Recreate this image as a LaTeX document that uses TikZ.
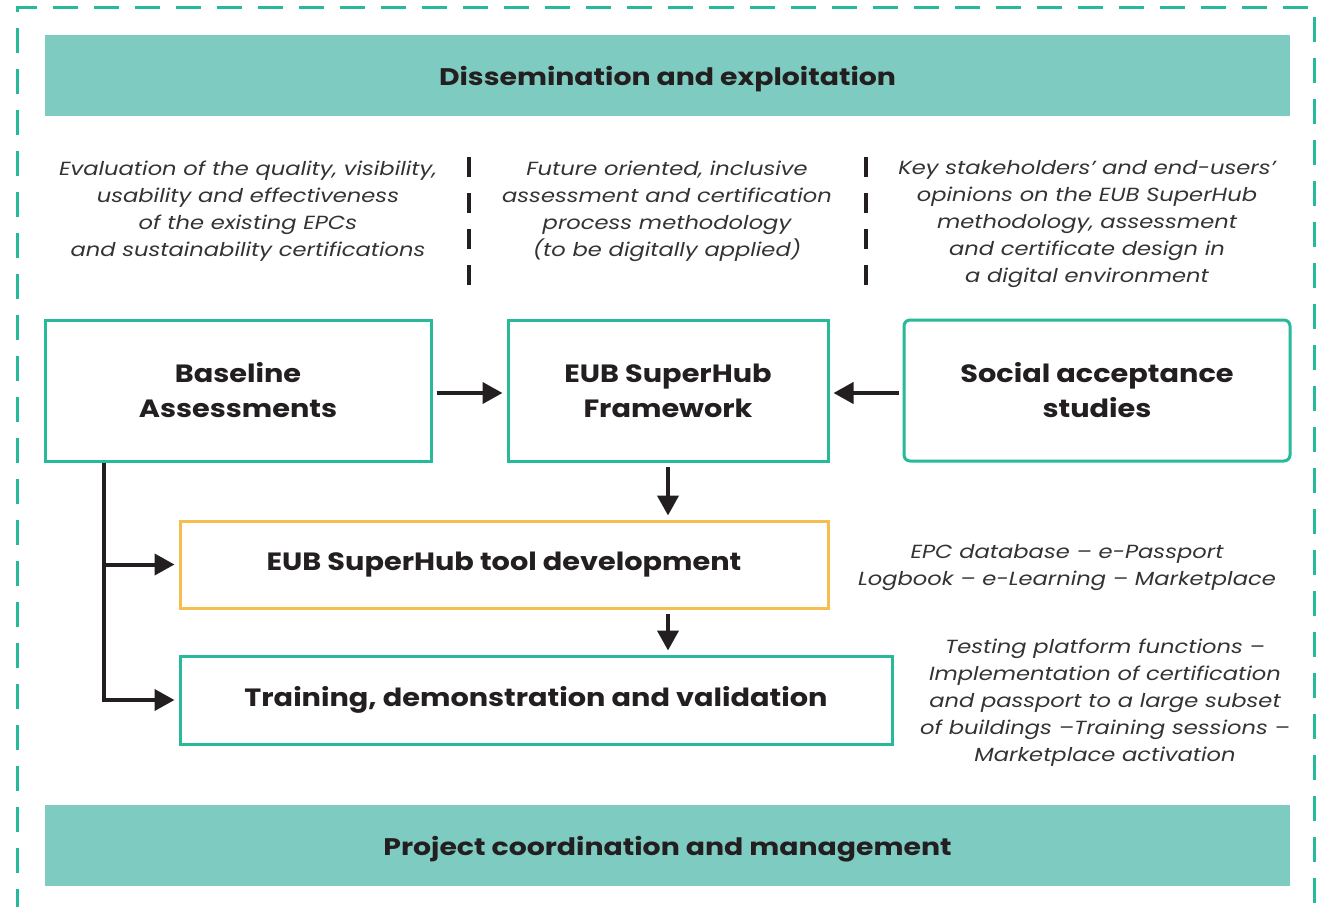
\documentclass[tikz,border=0pt]{standalone}
\usepackage{fontspec}
\setmainfont{Poppins}
\newfontfamily\boxfont[FakeStretch=1.15]{Poppins}
\newfontfamily\barfont[FakeStretch=1.18]{Poppins}
\newfontfamily\notefont[FakeStretch=1.19]{Poppins}
\usetikzlibrary{arrows.meta}
\definecolor{teal1}{HTML}{7ECCC1}
\definecolor{teal2}{HTML}{26B99A}
\definecolor{orng}{HTML}{F6BE4F}
\definecolor{ink}{HTML}{231F20}
\definecolor{gtxt}{HTML}{333333}
\tikzset{
  bar/.style={fill=teal1, draw=none, minimum width=1245pt, minimum height=81pt, inner sep=0pt,
    text depth=0pt, font=\barfont\fontsize{24}{28}\selectfont\bfseries, text=ink},
  box/.style={draw=teal2, line width=3pt, fill=white, inner sep=0pt, align=center,
    font=\boxfont\fontsize{25}{35}\selectfont\bfseries, text=ink},
  note/.style={align=center, inner sep=0pt, text=gtxt, font=\notefont\fontsize{19}{27}\selectfont\itshape},
  conn/.style={draw=ink, line width=4pt, -{Triangle[length=20pt,width=21pt]}},
  sep/.style={draw=ink, line width=4pt, dash pattern=on 20pt off 16pt},
}
\begin{document}
\begin{tikzpicture}[x=1pt,y=-1pt]
\useasboundingbox (0,0) rectangle (1321,906);
\draw[teal2, line width=3pt, dash pattern=on 25pt off 16pt, dash phase=-16pt]
  (17,930) -- (17,7) -- (1314,7) -- (1314,930);
\node[bar] (top) at (667.5,75.5) {Dissemination and exploitation};
\node[bar] (bot) at (667.5,845.5) {Project coordination and management};

\node[note] (n1) at (248,211) {Evaluation of the quality, visibility,\\usability and effectiveness\\of the existing EPCs\\and sustainability certifications};
\node[note] (n2) at (667,211) {Future oriented, inclusive\\assessment and certification\\process methodology\\(to be digitally applied)};
\node[note] (n3) at (1087,224) {Key stakeholders’ and end-users’\\opinions on the EUB SuperHub\\methodology, assessment\\and certificate design in\\a digital environment};
\draw[sep] (469,157) -- (469,285);
\draw[sep] (866,157) -- (866,285);

\node[box, minimum width=386pt, minimum height=141pt] (base) at (238,390.5) {Baseline\\Assessments};
\node[box, minimum width=320pt, minimum height=141pt] (frame) at (668,390.5) {EUB SuperHub\\Framework};
\node[box, rounded corners=6pt, minimum width=386pt, minimum height=141pt] (social) at (1097,390.5) {Social acceptance\\studies};
\node[box, draw=orng, minimum width=648pt, minimum height=87pt] (tool) at (504,564.5) {EUB SuperHub tool development};
\node[box, minimum width=712pt, minimum height=88pt] (train) at (536,700) {Training, demonstration and validation};

\node[note] (epc) at (1067,568) {EPC database – e-Passport\\Logbook – e-Learning – Marketplace};
\node[note] (test) at (1105,703) {Testing platform functions –\\Implementation of certification\\and passport to a large subset\\of buildings –Training sessions –\\Marketplace activation};

\draw[conn, shorten <=4pt, shorten >=4pt] (base.east |- 0,393) -- (frame.west |- 0,393);
\draw[conn, shorten <=4pt, shorten >=4pt] (social.west |- 0,393) -- (frame.east |- 0,393);
\draw[conn, shorten <=4pt, shorten >=4pt] (frame.south) -- (frame.south |- tool.north);
\draw[conn, shorten <=4pt, shorten >=4pt] (frame.south |- tool.south) -- (frame.south |- train.north);
\coordinate (j) at (base.south -| 104,0);
\draw[conn, shorten >=4pt] (j) |- (train.west);
\draw[conn, shorten >=4pt] (104,564.5) -- (tool.west);
\end{tikzpicture}
\end{document}
